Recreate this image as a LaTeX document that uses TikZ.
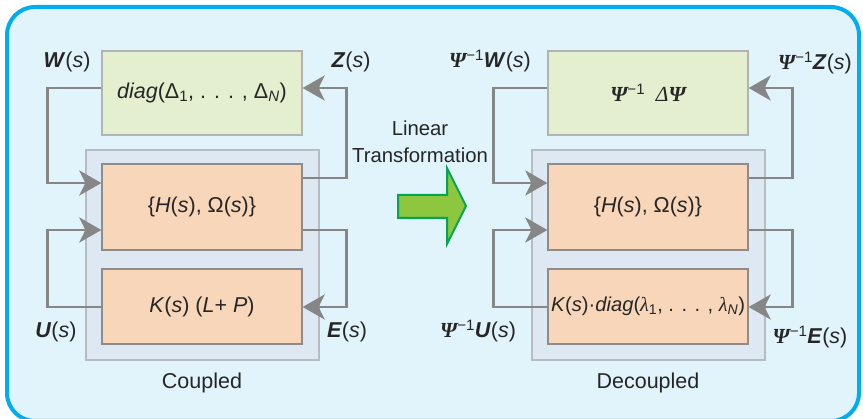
\documentclass[tikz,border=0pt]{standalone}
\usepackage{fontspec}
\setmainfont{Liberation Sans}
\newfontfamily\psifont{Liberation Serif}
\usetikzlibrary{arrows.meta}
\definecolor{bgc}{HTML}{E1F3FB}
\definecolor{framec}{HTML}{00AEEF}
\definecolor{contc}{HTML}{DEE8F2}
\definecolor{contb}{HTML}{B7BBC2}
\definecolor{greenc}{HTML}{E4EFD0}
\definecolor{greenb}{HTML}{B3B3B3}
\definecolor{orangec}{HTML}{F8D6B9}
\definecolor{orangeb}{HTML}{8C8C8C}
\definecolor{connc}{HTML}{868686}
\definecolor{arrfill}{HTML}{8DC63F}
\definecolor{arrdraw}{HTML}{00A651}
\newcommand{\Psib}{{\psifont\bfseries\itshape Ψ}}
\newcommand{\inv}{\textsuperscript{−1}}
\begin{document}
\begin{tikzpicture}[x=1pt,y=-1pt,
  every node/.style={font=\fontsize{21.5}{24}\selectfont, text=black!85, inner sep=0pt},
  deltabox/.style={draw=greenb, fill=greenc, line width=1.3pt, minimum width=200pt, minimum height=84pt},
  plantbox/.style={draw=orangeb, fill=orangec, line width=1.3pt, minimum width=200pt},
  contbox/.style={draw=contb, fill=contc, line width=1.3pt, minimum width=233pt, minimum height=210pt},
  conn/.style={draw=connc, line width=2.8pt},
  tip/.style={-{Stealth[length=22pt,width=25pt,inset=6pt]}}
]
\useasboundingbox (0,0) rectangle (863,419);
\fill[bgc, rounded corners=28pt] (7,7) rectangle (859,421);
\draw[framec, line width=4pt, rounded corners=28pt] (7,7) rectangle (859,421);

% ---------- left panel ----------
\node[contbox] (cL) at (202.5,255) {};
\node[deltabox] (gL) at (202,93) {\textit{diag}(Δ\textsubscript{1}, . . . , Δ\textsubscript{\textit{N}})};
\node[plantbox, minimum height=86pt] (hL) at (202,207) {\{\textit{H}(\textit{s}), Ω(\textit{s})\}};
\node[plantbox, minimum height=75pt] (kL) at (202,306.5) {\textit{K}(\textit{s}) (\textit{L}+ \textit{P})};
\node (cLt) at (202,383) {Coupled};

\draw[conn,tip] ([yshift=5pt]gL.west) -- ++(-54,0) |- ([yshift=24pt]hL.west);
\draw[conn,tip] ([yshift=29pt]hL.east) -- ++(44,0) |- ([yshift=5pt]gL.east);
\draw[conn,tip] ([yshift=-0.5pt]kL.west) -- ++(-54,0) |- ([yshift=-23pt]hL.west);
\draw[conn,tip] ([yshift=-23pt]hL.east) -- ++(44,0) |- ([yshift=-0.5pt]kL.east);

\node (wL) at (67,62) {\textbf{\textit{W}}(\textit{s})};
\node (zL) at (351,62) {\textbf{\textit{Z}}(\textit{s})};
\node (uL) at (56,332) {\textbf{\textit{U}}(\textit{s})};
\node (eL) at (347,332) {\textbf{\textit{E}}(\textit{s})};

% ---------- middle ----------
\node[align=center, font=\fontsize{20.3}{24}\selectfont] (lt) at (420,142) {Linear\\[3pt]Transformation};
\draw[fill=arrfill, draw=arrdraw, line width=2pt]
  (398,195) -- (447,195) -- (447,168) -- (466,206) -- (447,244) -- (447,218) -- (398,218) -- cycle;

% ---------- right panel ----------
\node[contbox] (cR) at (648.5,255) {};
\node[deltabox] (gR) at (648,93) {\Psib\inv\,\,\,{\psifont\itshape Δ}\Psib};
\node[plantbox, minimum height=75pt] (kR) at (648,306.5) {\resizebox{194pt}{!}{\textit{K}(\textit{s})·\textit{diag}({\psifont\itshape λ}\textsubscript{1}, . . . , {\psifont\itshape λ}\textsubscript{\textit{N}})}};
\node[plantbox, minimum height=86pt] (hR) at (648,207) {\{\textit{H}(\textit{s}), Ω(\textit{s})\}};
\node (cRt) at (648,383) {Decoupled};

\draw[conn,tip] ([yshift=5pt]gR.west) -- ++(-54,0) |- ([yshift=24pt]hR.west);
\draw[conn,tip] ([yshift=29pt]hR.east) -- ++(44,0) |- ([yshift=5pt]gR.east);
\draw[conn,tip] ([yshift=-0.5pt]kR.west) -- ++(-54,0) |- ([yshift=-23pt]hR.west);
\draw[conn,tip] ([yshift=-23pt]hR.east) -- ++(44,0) |- ([yshift=-0.5pt]kR.east);

\node (wR) at (490,61) {\Psib\inv\textbf{\textit{W}}(\textit{s})};
\node (zR) at (815,63) {\Psib\inv\textbf{\textit{Z}}(\textit{s})};
\node (uR) at (478,331) {\Psib\inv\textbf{\textit{U}}(\textit{s})};
\node (eR) at (810,337) {\Psib\inv\textbf{\textit{E}}(\textit{s})};
\end{tikzpicture}
\end{document}
